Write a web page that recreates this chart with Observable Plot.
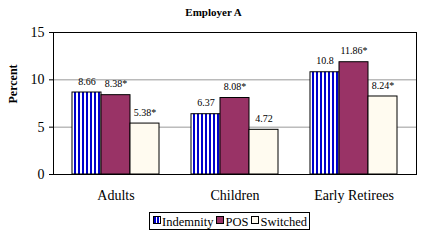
<!DOCTYPE html>
<html><head><meta charset="utf-8">
<script src="https://cdn.jsdelivr.net/npm/d3@7"></script>
<script src="https://cdn.jsdelivr.net/npm/@observablehq/plot@0.6"></script>
<style>
body{margin:0;background:#fff;font-family:"Liberation Serif",serif;width:427px;height:240px;overflow:hidden;color:#000}
#title{height:22px;line-height:25px;text-align:center;font-weight:bold;font-size:11px}
#chart{position:relative;width:427px;height:186px}
#chart svg{display:block;position:absolute;left:0;top:0}
#legend{position:absolute;left:149px;top:212px;width:161px;height:18px;border:1px solid #000;display:flex;align-items:flex-start;justify-content:space-between;font-size:12.5px;line-height:19px;padding:0 2px 0 3px;box-sizing:border-box;white-space:nowrap}
#legend .item{display:flex;align-items:flex-start}
#legend .sw{width:6px;height:6px;border:1px solid #000;margin-top:3px;margin-right:1px}
</style></head><body>
<div id="title">Employer A</div>
<div id="chart"></div>
<div id="legend"></div>
<script>
const categories = ["Adults", "Children", "Early Retirees"];
const series = ["Indemnity", "POS", "Switched"];
const indemnity = [8.66, 6.37, 10.8];
const pos = [8.38, 8.08, 11.86];
const switched = [5.38, 4.72, 8.24];
const indemnitySig = [false, false, false];
const posSig = [true, true, true];
const switchedSig = [true, false, true];
const yTicks = [0, 5, 10, 15];
const colors = ["url(#stripes)", "#993366", "#FFFBF0"];
const swatchCss = ["repeating-linear-gradient(90deg,#0000CC 0 2px,#fff 2px 3px)", "#993366", "#FFFBF0"];

const values = [indemnity, pos, switched];
const sigs = [indemnitySig, posSig, switchedSig];
const rows = categories.flatMap((c, i) => series.map((s, j) => ({
  category: c, series: s, value: values[j][i], sig: sigs[j][i]
})));

const common = {
  width: 427, height: 186,
  marginTop: 10, marginBottom: 34, marginLeft: 53, marginRight: 11,
  style: {fontFamily: '"Liberation Serif", serif', fontSize: "14px", color: "#000", background: "transparent", overflow: "visible"}
};

// background: grid, frame, y axis
const back = Plot.plot({
  ...common,
  x: {axis: null},
  y: {domain: [0, 15], ticks: yTicks, label: null, tickSize: 4, tickPadding: 4},
  marks: [
    Plot.ruleY(yTicks, {stroke: "#999"}),
    Plot.frame({stroke: "#000"}),
    Plot.axisY({ticks: yTicks, tickSize: 4, tickPadding: 5, label: null}),
    Plot.text(["Percent"], {text: d => d, frameAnchor: "left", rotate: -90, dx: -40, fontWeight: "bold", fontSize: 12})
  ]
});

// foreground: grouped bars via fx facets
const front = Plot.plot({
  ...common,
  fx: {domain: categories, paddingInner: 0.25, paddingOuter: 0.14, label: null, axis: "bottom", tickSize: 0, tickPadding: 16},
  x: {domain: series, padding: 0, axis: null},
  y: {domain: [0, 15], axis: null},
  color: {domain: series, range: colors},
  marks: [
    Plot.barY(rows, {fx: "category", x: "series", y: "value", fill: "series", stroke: "#000", strokeWidth: 1}),
    Plot.text(rows, {fx: "category", x: "series", y: "value", text: d => d.value + (d.sig ? "*" : ""), dy: -11, fontSize: 10})
  ]
});
d3.select(front).insert("defs", ":first-child").html(
  '<pattern id="stripes" width="4" height="4" patternUnits="userSpaceOnUse"><rect width="4" height="4" fill="#fff"/><rect width="2" height="4" fill="#0000CC"/></pattern>'
);
document.getElementById("chart").appendChild(back);
document.getElementById("chart").appendChild(front);

const legend = d3.select("#legend");
series.forEach((s, i) => {
  const it = legend.append("div").attr("class", "item");
  it.append("div").attr("class", "sw").style("background", swatchCss[i]);
  it.append("span").text(s);
});
</script>
</body></html>
